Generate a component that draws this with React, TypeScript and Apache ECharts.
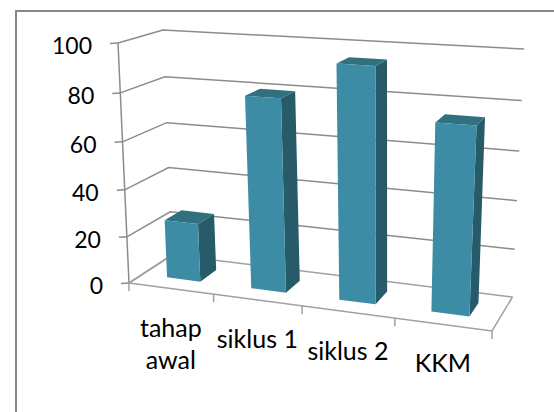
import React, { useEffect, useRef } from "react";
import * as echarts from "echarts";

const categories = ["tahap\nawal", "siklus 1", "siklus 2", "KKM"];
const barValues = [25, 80, 95, 75];
const tickValues = [0, 20, 40, 60, 80, 100];

const W = 554, H = 412;
const GRID = { left: 0, top: 0, width: 400, height: 400 };
const FONT = '23px Lato, "Noto Sans", sans-serif';
const CATEGORY_FONT = '25px Lato, "Noto Sans", sans-serif';
const LINE = "#8c8c8c";
const FLOOR_LINE = "#a0a0a0";
const FRONT = "#3c8ca6", SIDE = "#275b6a", TOP = "#30707f";
const Z0 = 0.3, Z1 = 0.7, BAR_WIDTH = 0.4, PERSPECTIVE = 1.05;

type P = [number, number];
// unit square to quad: (0,0) front-left, (1,0) front-right, (1,1) back-right, (0,1) back-left
function homography(a: P, b: P, c: P, d: P) {
  const dx1 = b[0] - c[0], dx2 = d[0] - c[0], sx = a[0] - b[0] + c[0] - d[0];
  const dy1 = b[1] - c[1], dy2 = d[1] - c[1], sy = a[1] - b[1] + c[1] - d[1];
  const den = dx1 * dy2 - dx2 * dy1;
  const g = (sx * dy2 - dx2 * sy) / den, h = (dx1 * sy - sx * dy1) / den;
  const m = [b[0] - a[0] + g * b[0], d[0] - a[0] + h * d[0], a[0], b[1] - a[1] + g * b[1], d[1] - a[1] + h * d[1], a[1]];
  return (u: number, v: number): P => {
    const q = g * u + h * v + 1;
    return [(m[0] * u + m[1] * v + m[2]) / q, (m[3] * u + m[4] * v + m[5]) / q];
  };
}
const floorMap = homography([129, 283], [492, 331], [512.5, 297], [172, 255]);
const topMap = homography([118, 43], [506, 66], [524, 49], [163, 30]);

function project(x: number, h: number, z: number): P {
  const f = floorMap(x, z), t = topMap(x, z);
  const k = h / (h + (1 - h) * PERSPECTIVE);
  return [f[0] + (t[0] - f[0]) * k, f[1] + (t[1] - f[1]) * k];
}
function unit(pt: number[]): [number, number] {
  return [(pt[0] - GRID.left) / GRID.width, (GRID.top + GRID.height - pt[1]) / GRID.height];
}
const stroke = (color: string, lineWidth: number) => ({ stroke: color, lineWidth, fill: "none" });
const line = (points: P[], color = LINE, lineWidth = 1.5) => ({
  type: "polyline", shape: { points }, style: stroke(color, lineWidth),
});

function renderGrid(_: any, api: any) {
  const [, h] = unit(api.coord([0, api.value(1)]));
  const v = api.value(1);
  const a = project(0, h, 0), b = project(0, h, 1), c = project(1, h, 1);
  const color = v === 0 ? FLOOR_LINE : LINE;
  return {
    type: "group",
    children: [
      line([a, b, c], color),
      line([[a[0] - 8, a[1] + 0.5], a], LINE),
      {
        type: "text",
        style: { text: String(v), x: a[0] - 26, y: a[1] + 2, font: FONT, fill: "#000", align: "right", verticalAlign: "middle" },
      },
    ],
  };
}

function renderFrame(params: any, api: any) {
  const i = params.dataIndex;
  const band = api.size([1, 0])[0] / GRID.width;
  const [cx] = unit(api.coord([i, 0]));
  const x0 = cx - band / 2;
  const base = project(x0, 0, 0);
  const mid = project(cx, 0, 0);
  const children: any[] = [
    line([base, [base[0], base[1] + 8]], FLOOR_LINE),
    {
      type: "text",
      style: {
        text: categories[i], x: mid[0], y: mid[1] + 22, font: CATEGORY_FONT, lineHeight: 32, fill: "#000", align: "center", verticalAlign: "top",
      },
    },
  ];
  if (i === 0) {
    children.push(line([project(0, 0, 0), project(0, 1, 0)], LINE));
    children.push(line([project(0, 0, 1), project(0, 0, 0), project(1, 0, 0), project(1, 0, 1)], FLOOR_LINE));
  }
  if (i === categories.length - 1) {
    const end = project(1, 0, 0);
    children.push(line([end, [end[0], end[1] + 8]], FLOOR_LINE));
  }
  return { type: "group", children };
}

function renderBar(_: any, api: any) {
  const i = api.value(0);
  const [cx, h] = unit(api.coord([i, api.value(1)]));
  const half = (api.size([1, 0])[0] / GRID.width) * BAR_WIDTH / 2;
  const l = cx - half, r = cx + half;
  const poly = (points: P[], fill: string) => ({ type: "polygon", shape: { points }, style: { fill } });
  return {
    type: "group",
    children: [
      poly([project(r, 0, Z0), project(r, 0, Z1), project(r, h, Z1), project(r, h, Z0)], SIDE),
      poly([project(l, h, Z0), project(r, h, Z0), project(r, h, Z1), project(l, h, Z1)], TOP),
      poly([project(l, 0, Z0), project(r, 0, Z0), project(r, h, Z0), project(l, h, Z0)], FRONT),
    ],
  };
}

export default function App() {
  const ref = useRef<HTMLDivElement>(null);
  useEffect(() => {
    const chart = echarts.init(ref.current!, null, { renderer: "svg" });
    chart.setOption({
      animation: false,
      backgroundColor: "#fff",
      grid: GRID,
      xAxis: { type: "category", data: categories, show: false },
      yAxis: { type: "value", min: 0, max: 100, interval: 20, show: false },
      graphic: [
        { type: "polyline", shape: { points: [[16, H], [16, 11], [W, 11]] }, style: { stroke: "#868686", lineWidth: 2, fill: "none" } },
      ],
      series: [
        { type: "custom", clip: false, z: 1, data: tickValues.map((v) => [0, v]), renderItem: renderGrid, encode: { x: 0, y: 1 } },
        { type: "custom", clip: false, z: 2, data: categories.map((_, i) => [i, 0]), renderItem: renderFrame, encode: { x: 0, y: 1 } },
        { type: "custom", clip: false, z: 3, data: barValues.map((v, i) => [i, v]), renderItem: renderBar, encode: { x: 0, y: 1 } },
      ],
    });
    return () => chart.dispose();
  }, []);
  return <div ref={ref} style={{ position: "absolute", left: 0, top: 0, width: W, height: H }} />;
}
